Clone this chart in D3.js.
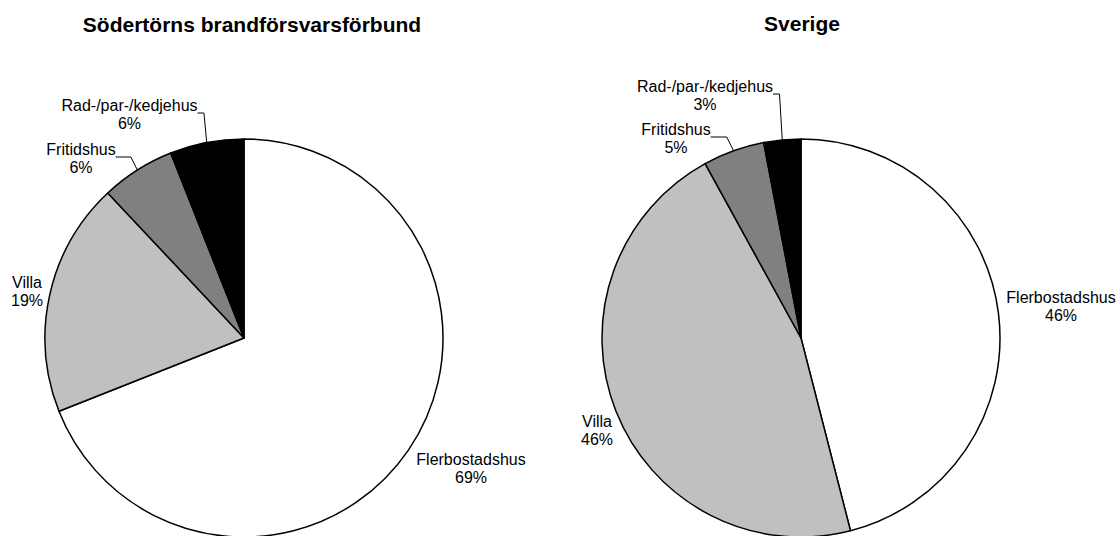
<!DOCTYPE html>
<html>
<head>
<meta charset="utf-8">
<script src="https://cdn.jsdelivr.net/npm/d3@7/dist/d3.min.js"></script>
<style>
  html, body { margin: 0; padding: 0; background: #fff; }
  svg { display: block; font-family: "Liberation Sans", Arial, sans-serif; }
</style>
</head>
<body>
<svg id="chart" width="1119" height="536"></svg>
<script>
// Housing categories, in drawing order (clockwise from 12 o'clock)
const categories = ["Flerbostadshus", "Villa", "Fritidshus", "Rad-/par-/kedjehus"];
const regionNames = ["Södertörns brandförsvarsförbund", "Sverige"];
// Share of fires per housing type, percent
const sodertornValues = [69, 19, 6, 6];
const sverigeValues = [46, 46, 5, 3];

const fills = ["#ffffff", "#c0c0c0", "#808080", "#000000"];

const svg = d3.select("#chart");
const radius = 199;

// Per-chart layout: pie centre, title placement and label anchors (relative to centre)
const layouts = [
  {
    cx: 244, cy: 338, titleX: 252, titleY: 32,
    labels: [[227, 127], [-217, -50], [-163, -183], [-114.5, -227]],
    leaders: [false, false, true, true]
  },
  {
    cx: 801, cy: 338, titleX: 802, titleY: 31,
    labels: [[260, -35], [-204, 89], [-125, -203], [-96, -246]],
    leaders: [false, false, true, true]
  }
];

const series = [sodertornValues, sverigeValues];

const pie = d3.pie().sort(null).value(d => d.value);
const arc = d3.arc().innerRadius(0).outerRadius(radius);

series.forEach((vals, i) => {
  const lay = layouts[i];
  const data = categories.map((c, k) => ({ name: c, value: vals[k], fill: fills[k] }));
  const arcs = pie(data);

  // Title
  svg.append("text")
    .attr("x", lay.titleX).attr("y", lay.titleY)
    .attr("text-anchor", "middle")
    .attr("font-size", 21).attr("font-weight", "bold")
    .attr("fill", "#000")
    .text(regionNames[i]);

  const g = svg.append("g").attr("transform", `translate(${lay.cx},${lay.cy})`);

  g.selectAll("path.slice")
    .data(arcs)
    .join("path")
    .attr("class", "slice")
    .attr("d", arc)
    .attr("fill", d => d.data.fill)
    .attr("stroke", "#000")
    .attr("stroke-width", 1.5)
    .attr("stroke-linejoin", "round");

  arcs.forEach((a, k) => {
    const [lx, ly] = lay.labels[k];
    const t = g.append("text")
      .attr("text-anchor", "middle")
      .attr("font-size", 16)
      .attr("fill", "#000");
    t.append("tspan").attr("x", lx).attr("y", ly).text(a.data.name);
    t.append("tspan").attr("x", lx).attr("y", ly + 18).text(Math.round(a.data.value) + "%");

    if (lay.leaders[k]) {
      const w = t.select("tspan").node().getComputedTextLength();
      const mid = (a.startAngle + a.endAngle) / 2;
      const ex = radius * Math.sin(mid);
      const ey = -radius * Math.cos(mid);
      const sx = lx + w / 2;
      const sy = ly + 2;
      const bx = sx + 0.7 * (ex - sx);
      g.append("polyline")
        .attr("points", [[sx, sy], [bx, sy], [ex, ey]].map(p => p.join(",")).join(" "))
        .attr("fill", "none")
        .attr("stroke", "#000")
        .attr("stroke-width", 1);
    }
  });
});
</script>
</body>
</html>
